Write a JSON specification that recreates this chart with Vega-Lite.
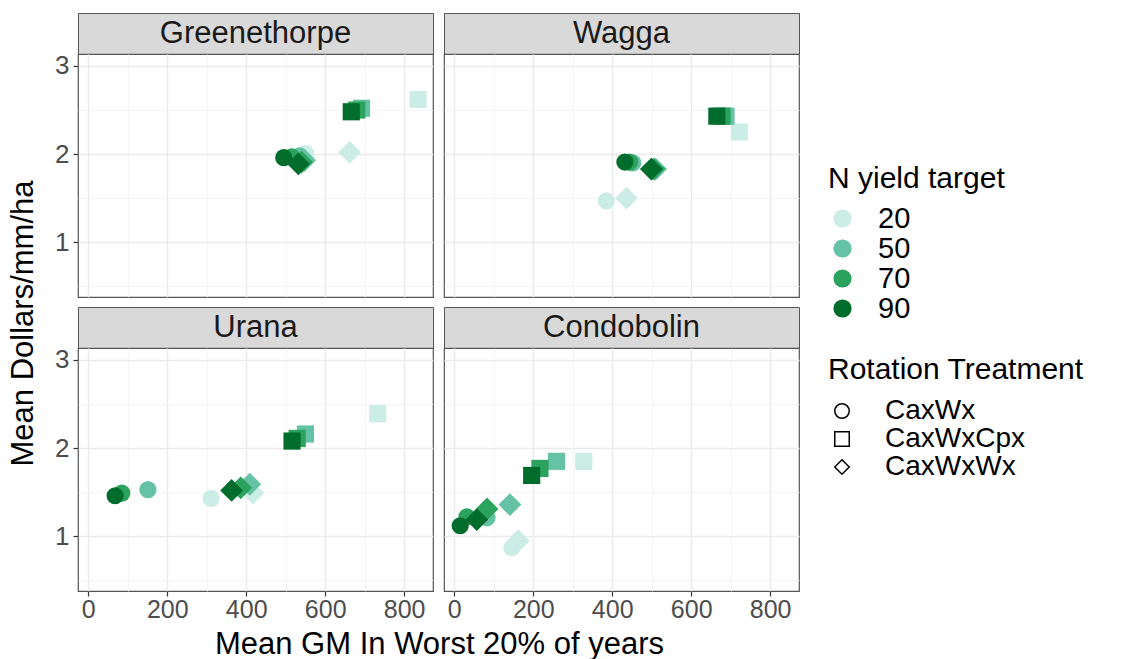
{
  "$schema": "https://vega.github.io/schema/vega-lite/v6.json",
  "padding": {"left": 6, "top": 12, "right": 5, "bottom": 0},
  "background": "white",
  "config": {
    "font": "Liberation Sans",
    "view": {"stroke": "#555555", "strokeWidth": 1.2},
    "axis": {
      "labelFont": "Liberation Sans",
      "titleFont": "Liberation Sans",
      "labelColor": "#4d4d4d",
      "labelFontSize": 26,
      "titleFontSize": 31,
      "titleFontWeight": "normal",
      "titleColor": "#000000",
      "domain": false,
      "tickColor": "#333333",
      "tickSize": 5,
      "tickWidth": 1.2,
      "labelOverlap": false,
      "labelFlush": false,
      "labelBound": false
    },
    "legend": {"titleLimit": 500, "labelLimit": 400}
  },
  "datasets": {
    "pts": [
      {"Site": "Greenethorpe", "Rotation": "CaxWx", "N": 20, "GM": 550, "Dollars": 2.01},
      {"Site": "Greenethorpe", "Rotation": "CaxWxCpx", "N": 20, "GM": 835, "Dollars": 2.62},
      {"Site": "Greenethorpe", "Rotation": "CaxWxWx", "N": 20, "GM": 662, "Dollars": 2.02},
      {"Site": "Greenethorpe", "Rotation": "CaxWx", "N": 50, "GM": 535, "Dollars": 1.98},
      {"Site": "Greenethorpe", "Rotation": "CaxWxCpx", "N": 50, "GM": 692, "Dollars": 2.52},
      {"Site": "Greenethorpe", "Rotation": "CaxWxWx", "N": 50, "GM": 548, "Dollars": 1.93},
      {"Site": "Greenethorpe", "Rotation": "CaxWx", "N": 70, "GM": 515, "Dollars": 1.97},
      {"Site": "Greenethorpe", "Rotation": "CaxWxCpx", "N": 70, "GM": 680, "Dollars": 2.5},
      {"Site": "Greenethorpe", "Rotation": "CaxWxWx", "N": 70, "GM": 540, "Dollars": 1.91},
      {"Site": "Greenethorpe", "Rotation": "CaxWx", "N": 90, "GM": 495, "Dollars": 1.96},
      {"Site": "Greenethorpe", "Rotation": "CaxWxCpx", "N": 90, "GM": 666, "Dollars": 2.48},
      {"Site": "Greenethorpe", "Rotation": "CaxWxWx", "N": 90, "GM": 532, "Dollars": 1.89},
      {"Site": "Wagga", "Rotation": "CaxWx", "N": 20, "GM": 385, "Dollars": 1.47},
      {"Site": "Wagga", "Rotation": "CaxWxCpx", "N": 20, "GM": 722, "Dollars": 2.25},
      {"Site": "Wagga", "Rotation": "CaxWxWx", "N": 20, "GM": 436, "Dollars": 1.5},
      {"Site": "Wagga", "Rotation": "CaxWx", "N": 50, "GM": 452, "Dollars": 1.9},
      {"Site": "Wagga", "Rotation": "CaxWxCpx", "N": 50, "GM": 688, "Dollars": 2.43},
      {"Site": "Wagga", "Rotation": "CaxWxWx", "N": 50, "GM": 510, "Dollars": 1.83},
      {"Site": "Wagga", "Rotation": "CaxWx", "N": 70, "GM": 444, "Dollars": 1.91},
      {"Site": "Wagga", "Rotation": "CaxWxCpx", "N": 70, "GM": 678, "Dollars": 2.43},
      {"Site": "Wagga", "Rotation": "CaxWxWx", "N": 70, "GM": 505, "Dollars": 1.83},
      {"Site": "Wagga", "Rotation": "CaxWx", "N": 90, "GM": 432, "Dollars": 1.91},
      {"Site": "Wagga", "Rotation": "CaxWxCpx", "N": 90, "GM": 665, "Dollars": 2.43},
      {"Site": "Wagga", "Rotation": "CaxWxWx", "N": 90, "GM": 499, "Dollars": 1.83},
      {"Site": "Urana", "Rotation": "CaxWx", "N": 20, "GM": 311, "Dollars": 1.43},
      {"Site": "Urana", "Rotation": "CaxWxCpx", "N": 20, "GM": 733, "Dollars": 2.39},
      {"Site": "Urana", "Rotation": "CaxWxWx", "N": 20, "GM": 417, "Dollars": 1.49},
      {"Site": "Urana", "Rotation": "CaxWx", "N": 50, "GM": 151, "Dollars": 1.53},
      {"Site": "Urana", "Rotation": "CaxWxCpx", "N": 50, "GM": 550, "Dollars": 2.16},
      {"Site": "Urana", "Rotation": "CaxWxWx", "N": 50, "GM": 409, "Dollars": 1.59},
      {"Site": "Urana", "Rotation": "CaxWx", "N": 70, "GM": 85, "Dollars": 1.49},
      {"Site": "Urana", "Rotation": "CaxWxCpx", "N": 70, "GM": 529, "Dollars": 2.11},
      {"Site": "Urana", "Rotation": "CaxWxWx", "N": 70, "GM": 386, "Dollars": 1.55},
      {"Site": "Urana", "Rotation": "CaxWx", "N": 90, "GM": 68, "Dollars": 1.46},
      {"Site": "Urana", "Rotation": "CaxWxCpx", "N": 90, "GM": 516, "Dollars": 2.08},
      {"Site": "Urana", "Rotation": "CaxWxWx", "N": 90, "GM": 363, "Dollars": 1.52},
      {"Site": "Condobolin", "Rotation": "CaxWx", "N": 20, "GM": 146, "Dollars": 0.87},
      {"Site": "Condobolin", "Rotation": "CaxWxCpx", "N": 20, "GM": 328, "Dollars": 1.85},
      {"Site": "Condobolin", "Rotation": "CaxWxWx", "N": 20, "GM": 162, "Dollars": 0.95},
      {"Site": "Condobolin", "Rotation": "CaxWx", "N": 50, "GM": 83, "Dollars": 1.21},
      {"Site": "Condobolin", "Rotation": "CaxWxCpx", "N": 50, "GM": 259, "Dollars": 1.85},
      {"Site": "Condobolin", "Rotation": "CaxWxWx", "N": 50, "GM": 141, "Dollars": 1.36},
      {"Site": "Condobolin", "Rotation": "CaxWx", "N": 70, "GM": 32, "Dollars": 1.22},
      {"Site": "Condobolin", "Rotation": "CaxWxCpx", "N": 70, "GM": 217, "Dollars": 1.77},
      {"Site": "Condobolin", "Rotation": "CaxWxWx", "N": 70, "GM": 83, "Dollars": 1.31},
      {"Site": "Condobolin", "Rotation": "CaxWx", "N": 90, "GM": 15, "Dollars": 1.12},
      {"Site": "Condobolin", "Rotation": "CaxWxCpx", "N": 90, "GM": 196, "Dollars": 1.69},
      {"Site": "Condobolin", "Rotation": "CaxWxWx", "N": 90, "GM": 57, "Dollars": 1.19}
    ]
  },
  "columns": 2,
  "bounds": "flush",
  "spacing": {"row": 0, "column": 11},
  "concat": [
    {
      "width": 355, "height": 41,
      "view": {"fill": "#d9d9d9", "stroke": "#555555"},
      "data": {"values": [{"Site": "Greenethorpe"}]},
      "mark": {"type": "text", "fontSize": 31, "color": "#1a1a1a", "font": "Liberation Sans"},
      "encoding": {"text": {"field": "Site"}}
    },
    {
      "width": 355, "height": 41,
      "view": {"fill": "#d9d9d9", "stroke": "#555555"},
      "data": {"values": [{"Site": "Wagga"}]},
      "mark": {"type": "text", "fontSize": 31, "color": "#1a1a1a", "font": "Liberation Sans"},
      "encoding": {"text": {"field": "Site"}}
    },
    {
      "width": 355, "height": 243,
      "data": {"name": "pts"},
      "transform": [{"filter": "datum.Site === 'Greenethorpe'"}],
      "mark": {"type": "point", "filled": true, "opacity": 1},
      "encoding": {
        "x": {"field": "GM", "type": "quantitative", "scale": {"domain": [-26, 873], "nice": false, "zero": false},
          "axis": {"values": [0, 100, 200, 300, 400, 500, 600, 700, 800], "labels": false, "ticks": false, "title": null,
            "gridColor": {"condition": {"test": "datum.value % 200 === 0", "value": "#ebebeb"}, "value": "#f2f2f2"},
            "gridWidth": {"condition": {"test": "datum.value % 200 === 0", "value": 1.5}, "value": 0.8}}},
        "y": {"field": "Dollars", "type": "quantitative", "scale": {"domain": [0.38, 3.135], "nice": false, "zero": false},
          "axis": {"values": [0.5, 1, 1.5, 2, 2.5, 3], "labelExpr": "datum.value % 1 === 0 ? format(datum.value, 'd') : ''",
            "tickOpacity": {"condition": {"test": "datum.value % 1 === 0", "value": 1}, "value": 0},
            "labelPadding": 4,
            "gridColor": {"condition": {"test": "datum.value % 1 === 0", "value": "#ebebeb"}, "value": "#f2f2f2"},
            "gridWidth": {"condition": {"test": "datum.value % 1 === 0", "value": 1.5}, "value": 0.8},
            "title": "Mean Dollars/mm/ha", "titleX": -46, "titleY": 269, "titleBaseline": "alphabetic", "titleAlign": "center", "titleAngle": 270}},
        "color": {"field": "N", "type": "ordinal", "scale": {"domain": [20, 50, 70, 90], "range": ["#ccece6", "#66c2a4", "#2ca25f", "#006d2c"]},
          "legend": {"title": "N yield target", "orient": "none", "legendX": 750, "legendY": 151, "titleFontSize": 30, "titleFontWeight": "normal", "titleColor": "#000000", "labelFontSize": 29, "labelColor": "#000000", "symbolSize": 330, "symbolType": "circle", "rowPadding": 0, "labelOffset": 21, "titlePadding": 10, "symbolStrokeWidth": 0}},
        "shape": {"field": "Rotation", "type": "nominal", "scale": {"domain": ["CaxWx", "CaxWxCpx", "CaxWxWx"], "range": ["circle", "square", "diamond"]},
          "legend": {"title": "Rotation Treatment", "orient": "none", "legendX": 750, "legendY": 342, "titleFontSize": 30, "titleFontWeight": "normal", "titleColor": "#000000", "labelFontSize": 28, "labelColor": "#000000", "symbolSize": 210, "symbolFillColor": "transparent", "symbolStrokeColor": "#000000", "symbolStrokeWidth": 1.5, "rowPadding": 0, "labelOffset": 29, "titlePadding": 12}},
        "size": {"condition": {"test": "datum.Rotation === 'CaxWxWx'", "value": 520}, "value": 295}
      }
    },
    {
      "width": 355, "height": 243,
      "data": {"name": "pts"},
      "transform": [{"filter": "datum.Site === 'Wagga'"}],
      "mark": {"type": "point", "filled": true, "opacity": 1},
      "encoding": {
        "x": {"field": "GM", "type": "quantitative", "scale": {"domain": [-26, 873], "nice": false, "zero": false},
          "axis": {"values": [0, 100, 200, 300, 400, 500, 600, 700, 800], "labels": false, "ticks": false, "title": null,
            "gridColor": {"condition": {"test": "datum.value % 200 === 0", "value": "#ebebeb"}, "value": "#f2f2f2"},
            "gridWidth": {"condition": {"test": "datum.value % 200 === 0", "value": 1.5}, "value": 0.8}}},
        "y": {"field": "Dollars", "type": "quantitative", "scale": {"domain": [0.38, 3.135], "nice": false, "zero": false},
          "axis": {"values": [0.5, 1, 1.5, 2, 2.5, 3], "labels": false, "ticks": false, "title": null,
            "gridColor": {"condition": {"test": "datum.value % 1 === 0", "value": "#ebebeb"}, "value": "#f2f2f2"},
            "gridWidth": {"condition": {"test": "datum.value % 1 === 0", "value": 1.5}, "value": 0.8}}},
        "color": {"field": "N", "type": "ordinal"},
        "shape": {"field": "Rotation", "type": "nominal"},
        "size": {"condition": {"test": "datum.Rotation === 'CaxWxWx'", "value": 520}, "value": 295}
      }
    },
    {
      "width": 355, "height": 10,
      "view": {"stroke": null},
      "data": {"values": [{"gap": 1}]},
      "mark": {"type": "point", "opacity": 0}
    },
    {
      "width": 355, "height": 10,
      "view": {"stroke": null},
      "data": {"values": [{"gap": 1}]},
      "mark": {"type": "point", "opacity": 0}
    },
    {
      "width": 355, "height": 41,
      "view": {"fill": "#d9d9d9", "stroke": "#555555"},
      "data": {"values": [{"Site": "Urana"}]},
      "mark": {"type": "text", "fontSize": 31, "color": "#1a1a1a", "font": "Liberation Sans"},
      "encoding": {"text": {"field": "Site"}}
    },
    {
      "width": 355, "height": 41,
      "view": {"fill": "#d9d9d9", "stroke": "#555555"},
      "data": {"values": [{"Site": "Condobolin"}]},
      "mark": {"type": "text", "fontSize": 31, "color": "#1a1a1a", "font": "Liberation Sans"},
      "encoding": {"text": {"field": "Site"}}
    },
    {
      "width": 355, "height": 243,
      "data": {"name": "pts"},
      "transform": [{"filter": "datum.Site === 'Urana'"}],
      "mark": {"type": "point", "filled": true, "opacity": 1},
      "encoding": {
        "x": {"field": "GM", "type": "quantitative", "scale": {"domain": [-26, 873], "nice": false, "zero": false},
          "axis": {"values": [0, 100, 200, 300, 400, 500, 600, 700, 800], "labelExpr": "datum.value % 200 === 0 ? format(datum.value, 'd') : ''",
            "tickOpacity": {"condition": {"test": "datum.value % 200 === 0", "value": 1}, "value": 0},
            "labelPadding": 1, "labelFontSize": 25,
            "gridColor": {"condition": {"test": "datum.value % 200 === 0", "value": "#ebebeb"}, "value": "#f2f2f2"},
            "gridWidth": {"condition": {"test": "datum.value % 200 === 0", "value": 1.5}, "value": 0.8},
            "title": "Mean GM In Worst 20% of years", "titleX": 361, "titleY": 62, "titleBaseline": "alphabetic", "titleAlign": "center"}},
        "y": {"field": "Dollars", "type": "quantitative", "scale": {"domain": [0.38, 3.135], "nice": false, "zero": false},
          "axis": {"values": [0.5, 1, 1.5, 2, 2.5, 3], "labelExpr": "datum.value % 1 === 0 ? format(datum.value, 'd') : ''",
            "tickOpacity": {"condition": {"test": "datum.value % 1 === 0", "value": 1}, "value": 0},
            "labelPadding": 4, "title": null,
            "gridColor": {"condition": {"test": "datum.value % 1 === 0", "value": "#ebebeb"}, "value": "#f2f2f2"},
            "gridWidth": {"condition": {"test": "datum.value % 1 === 0", "value": 1.5}, "value": 0.8}}},
        "color": {"field": "N", "type": "ordinal"},
        "shape": {"field": "Rotation", "type": "nominal"},
        "size": {"condition": {"test": "datum.Rotation === 'CaxWxWx'", "value": 520}, "value": 295}
      }
    },
    {
      "width": 355, "height": 243,
      "data": {"name": "pts"},
      "transform": [{"filter": "datum.Site === 'Condobolin'"}],
      "mark": {"type": "point", "filled": true, "opacity": 1},
      "encoding": {
        "x": {"field": "GM", "type": "quantitative", "scale": {"domain": [-26, 873], "nice": false, "zero": false},
          "axis": {"values": [0, 100, 200, 300, 400, 500, 600, 700, 800], "labelExpr": "datum.value % 200 === 0 ? format(datum.value, 'd') : ''",
            "tickOpacity": {"condition": {"test": "datum.value % 200 === 0", "value": 1}, "value": 0},
            "labelPadding": 1, "labelFontSize": 25, "title": null,
            "gridColor": {"condition": {"test": "datum.value % 200 === 0", "value": "#ebebeb"}, "value": "#f2f2f2"},
            "gridWidth": {"condition": {"test": "datum.value % 200 === 0", "value": 1.5}, "value": 0.8}}},
        "y": {"field": "Dollars", "type": "quantitative", "scale": {"domain": [0.38, 3.135], "nice": false, "zero": false},
          "axis": {"values": [0.5, 1, 1.5, 2, 2.5, 3], "labels": false, "ticks": false, "title": null,
            "gridColor": {"condition": {"test": "datum.value % 1 === 0", "value": "#ebebeb"}, "value": "#f2f2f2"},
            "gridWidth": {"condition": {"test": "datum.value % 1 === 0", "value": 1.5}, "value": 0.8}}},
        "color": {"field": "N", "type": "ordinal"},
        "shape": {"field": "Rotation", "type": "nominal"},
        "size": {"condition": {"test": "datum.Rotation === 'CaxWxWx'", "value": 520}, "value": 295}
      }
    }
  ]
}
